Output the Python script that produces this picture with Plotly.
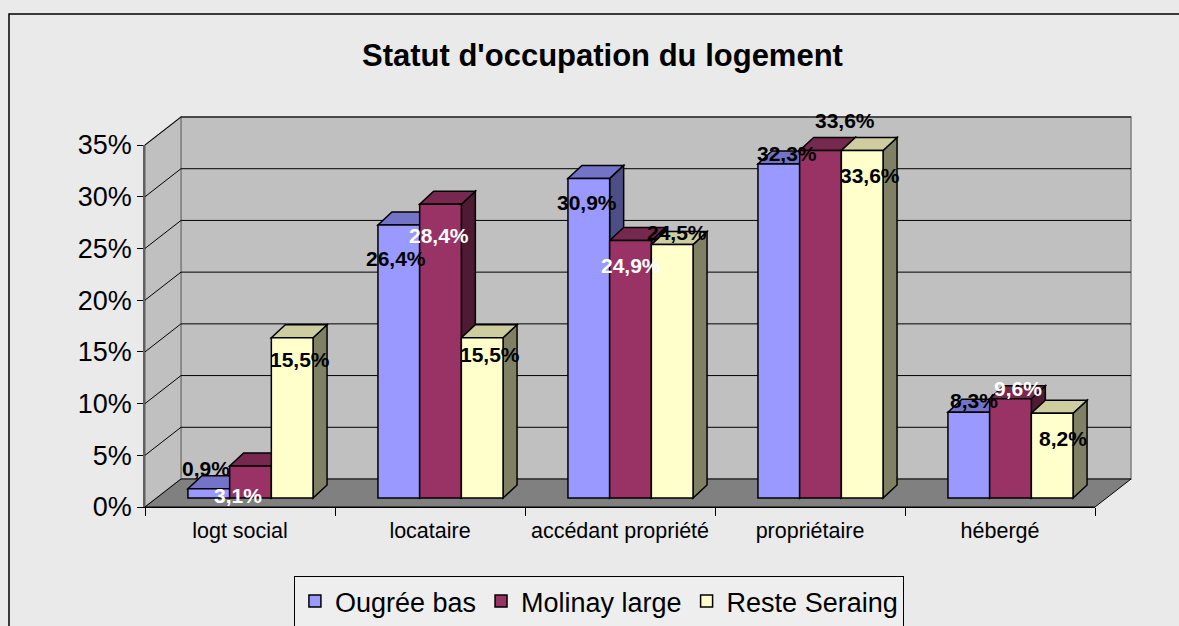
import plotly.graph_objects as go

categories = ["logt social", "locataire", "accédant propriété", "propriétaire", "hébergé"]
series_names = ["Ougrée bas", "Molinay large", "Reste Seraing"]
ougree_bas = [0.9, 26.4, 30.9, 32.3, 8.3]
molinay_large = [3.1, 28.4, 24.9, 33.6, 9.6]
reste_seraing = [15.5, 15.5, 24.5, 33.6, 8.2]
y_ticks = [0, 5, 10, 15, 20, 25, 30, 35]

values = [ougree_bas, molinay_large, reste_seraing]

# ---- styling ----
front_colors = ["#9999FF", "#993366", "#FFFFCC"]
top_colors = ["#7373C8", "#76284F", "#CDCDA0"]
side_colors = ["#4E4E86", "#4E1A34", "#808064"]
label_colors = [["black"] * 5,
                ["white", "white", "white", "black", "white"],
                ["black"] * 5]
label_dx = [[-3, -3, -2, 8, 5], [-13, -2, 0, 24, 7], [8, 8, 5, 8, 11]]
label_dy = [[20, -34, -24, 10, 12], [-30, -31, -25, 30, 10], [-22, -17, 12, -25, -25]]

W, H = 1179, 626
FX0, FX1 = 145, 1095          # front edge of the box (px)
FY0, FY35 = 507, 145          # front 0% and 35% (px)
DX, DY = 36, 28               # box depth
BX, BY = 10.5, 9              # bar plane offset from front edge
BDX, BDY = 14, 13             # bar depth
L, R_EDGE, T, B = FX0, FX1 + DX, FY35 - DY - 3, FY0
pw, ph = R_EDGE - L, B - T
ppy = (FY0 - FY35) / 35.0
ppx = (FX1 - FX0) / len(categories)
bargap = 0.3416
bw = (1 - bargap) / 3

# bar axis ranges (full paper area, shifted into the bar plane)
x_lo = -(ppx / 2 + BX) / ppx
x_hi = x_lo + pw / ppx
y_lo = -BY / ppy
y_hi = y_lo + ph / ppy

fig = go.Figure()
xs = list(range(len(categories)))
for name, vals, col in zip(series_names, values, front_colors):
    fig.add_trace(go.Bar(
        x=xs, y=vals, name=name, xaxis="x", yaxis="y",
        marker=dict(color=col, line=dict(color="black", width=1.5)),
        hovertext=categories, hoverinfo="text+y",
    ))
# invisible trace carrying the category tick axis
fig.add_trace(go.Scatter(x=categories, y=[0] * len(categories), xaxis="x2", yaxis="y2",
                         mode="markers", marker=dict(opacity=0), showlegend=False,
                         hoverinfo="skip"))

shapes = []
px = lambda p: (p - L) / pw
py = lambda p: (B - p) / ph
# back wall, left wall, floor (paper coords)
shapes.append(dict(type="rect", xref="paper", yref="paper", layer="below",
                   x0=px(FX0 + DX), x1=px(FX1 + DX), y0=py(FY0 - DY), y1=py(FY35 - DY),
                   fillcolor="#C0C0C0", line=dict(color="#808080", width=1.5)))
shapes.append(dict(type="path", xref="paper", yref="paper", layer="below",
                   path=f"M{px(FX0)},{py(FY0)} L{px(FX0+DX)},{py(FY0-DY)} L{px(FX0+DX)},{py(FY35-DY)} L{px(FX0)},{py(FY35)} Z",
                   fillcolor="#C0C0C0", line=dict(color="#808080", width=1.5)))
shapes.append(dict(type="path", xref="paper", yref="paper", layer="below",
                   path=f"M{px(FX0)},{py(FY0)} L{px(FX1)},{py(FY0)} L{px(FX1+DX)},{py(FY0-DY)} L{px(FX0+DX)},{py(FY0-DY)} Z",
                   fillcolor="#808080", line=dict(color="black", width=1)))
# gridlines on back wall + left wall (anchored to the value scale)
for t in y_ticks[1:]:
    shapes.append(dict(type="line", xref="paper", yref="y", layer="below",
                       ysizemode="pixel", yanchor=t,
                       x0=px(FX0 + DX), x1=px(FX1 + DX), y0=DY - BY, y1=DY - BY,
                       line=dict(color="black", width=1)))
    shapes.append(dict(type="line", xref="paper", yref="y", layer="below",
                       ysizemode="pixel", yanchor=t,
                       x0=px(FX0), x1=px(FX0 + DX), y0=-BY, y1=DY - BY,
                       line=dict(color="black", width=1)))
# 3D faces of the bars
wpx = bw * ppx
dyu = BDY / ppy
for i in range(len(categories)):
    for s, vals in enumerate(values):
        v = vals[i]
        xc = i + (s - 1) * bw
        shapes.append(dict(type="path", xref="x", yref="y", layer="below",
                           xsizemode="pixel", xanchor=xc + bw / 2,
                           path=f"M0,{v} L{BDX},{v + dyu} L{BDX},{dyu} L0,0 Z",
                           fillcolor=side_colors[s], line=dict(color="black", width=1.5)))
        shapes.append(dict(type="path", xref="x", yref="y", layer="below",
                           xsizemode="pixel", xanchor=xc - bw / 2,
                           path=f"M0,{v} L{wpx},{v} L{wpx + BDX},{v + dyu} L{BDX},{v + dyu} Z",
                           fillcolor=top_colors[s], line=dict(color="black", width=1.5)))
# outer chart frame (right and bottom edges fall outside the picture)
shapes.append(dict(type="rect", xref="paper", yref="paper", layer="below",
                   x0=px(9), x1=px(1200), y0=py(660), y1=py(14),
                   line=dict(color="black", width=1.5), fillcolor="rgba(0,0,0,0)"))

annotations = []
for s, vals in enumerate(values):
    for i, v in enumerate(vals):
        annotations.append(dict(
            x=i + (s - 1) * bw, y=v, xref="x", yref="y",
            text=f"<b>{v:.1f}%</b>".replace(".", ","),
            showarrow=False, xshift=label_dx[s][i], yshift=label_dy[s][i],
            font=dict(family="Arial", size=21, color=label_colors[s][i]),
        ))

fig.update_layout(
    width=W, height=H,
    margin=dict(l=L, r=W - R_EDGE, t=T, b=H - B),
    paper_bgcolor="#EAEAEA",
    plot_bgcolor="rgba(0,0,0,0)",
    barmode="group", bargap=bargap, bargroupgap=0,
    title=dict(text="<b>Statut d'occupation du logement</b>",
               x=0.511, xanchor="center", xref="container",
               y=1 - 55 / H, yanchor="middle", yref="container",
               font=dict(family="Arial", size=31, color="black")),
    font=dict(family="Arial", color="black"),
    xaxis=dict(domain=[0, 1], range=[x_lo, x_hi], visible=False, fixedrange=True),
    yaxis=dict(domain=[0, 1], range=[y_lo, y_hi], visible=False, fixedrange=True),
    xaxis2=dict(domain=[0, px(FX1)], anchor="y2", type="category",
                categoryorder="array", categoryarray=categories,
                range=[-0.5, len(categories) - 0.5],
                showgrid=False, zeroline=False,
                showline=True, linecolor="black", linewidth=1,
                ticks="outside", ticklen=8, tickcolor="black", tickson="boundaries",
                ticklabelstandoff=4,
                tickfont=dict(family="Arial", size=21.5, color="black")),
    yaxis2=dict(domain=[0, py(FY35)], anchor="x2", range=[0, 35],
                tickvals=y_ticks, ticktext=[f"{t}%" for t in y_ticks],
                showgrid=False, zeroline=False,
                showline=True, linecolor="#606060", linewidth=1.5,
                ticks="outside", ticklen=6, tickcolor="black",
                tickfont=dict(family="Arial", size=27, color="black")),
    legend=dict(orientation="h", xref="container", yref="container",
                x=0.508, xanchor="center", y=1 - 576 / H, yanchor="top",
                bgcolor="#EEEEEE", bordercolor="black", borderwidth=1,
                font=dict(family="Arial", size=27, color="black"),
                traceorder="normal"),
    shapes=shapes,
    annotations=annotations,
)

fig.write_html("out.html",
               config={"displayModeBar": False},
               post_script="document.body.style.margin='0';document.body.style.overflow='hidden';")
